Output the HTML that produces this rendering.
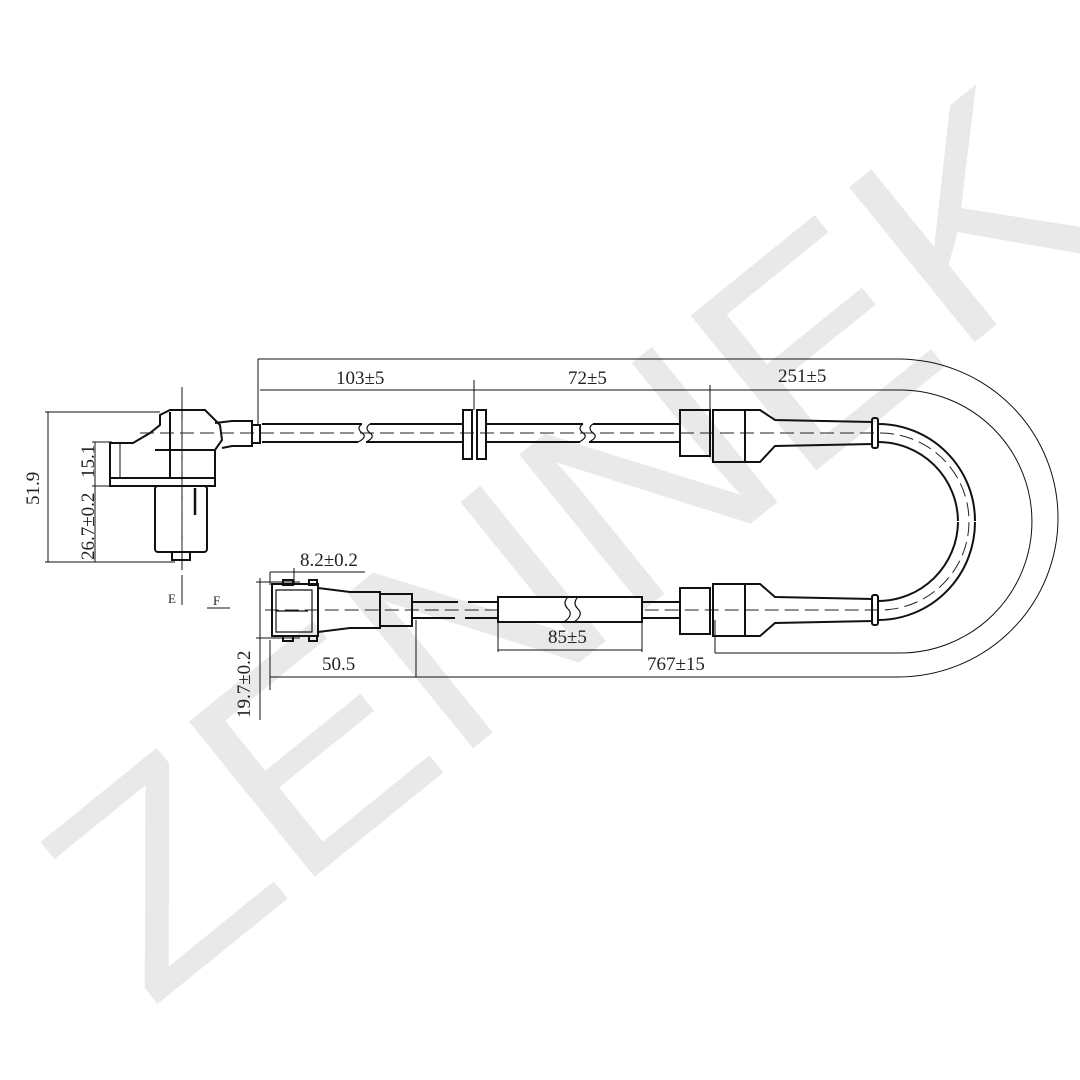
<!DOCTYPE html>
<html><head><meta charset="utf-8"><style>
html,body{margin:0;padding:0;background:#fff;}
svg{display:block}
text{font-family:"Liberation Serif",serif;fill:#222;}
</style></head><body>
<svg width="1080" height="1080" viewBox="0 0 1080 1080" xmlns="http://www.w3.org/2000/svg">
<!-- watermark -->
<g transform="translate(150,1010) rotate(-39)">
<text x="0" y="0" style="font-family:'Liberation Sans',sans-serif;font-weight:normal;font-size:290px;fill:#e9e9e9;" textLength="1240" lengthAdjust="spacingAndGlyphs">ZENNEK</text>
</g>
<g fill="none" stroke="#111" stroke-width="1">
<path d="M258 359 H898 A160 159 0 0 1 898 677 H270"/>
<path d="M258 359 V424"/>
<path d="M710 390 H900 A132 131.5 0 0 1 900 653 H715"/>
<path d="M260 390 H710"/>
<path d="M474 380 V410"/>
<path d="M710 385 V410"/>
<path d="M715 653 V620"/>
<path d="M498 650 H642"/><path d="M498 622 V652"/><path d="M642 622 V652"/>
<path d="M416 677 V620"/><path d="M270 640 V690"/>
<path d="M270 572 H365"/><path d="M270 572 V585"/><path d="M294 568 V585"/>
<path d="M256 582 H300"/><path d="M256 638 H300"/><path d="M260 578 V720"/>
<path d="M45 412 H160"/><path d="M45 562 H175"/><path d="M48 412 V562"/>
<path d="M92 442 H112"/><path d="M92 486 H140"/><path d="M95 442 V562"/>
<path d="M182 387 V570"/>
<path d="M182 575 V605"/>
<path d="M207 608 H230"/>
</g>
<g fill="none" stroke="#222" stroke-width="1" stroke-dasharray="14,6">
<path d="M140 433 H880 A89 88.5 0 0 1 880 610 H265"/>
<path d="M182 420 V560"/>
</g>
<g fill="none" stroke="#111" stroke-width="2">
<path d="M262 424 H362 M262 442 H358"/>
<path d="M370 424 H463 M366 442 H463"/>
<path d="M486 424 H583 M486 442 H580"/>
<path d="M593 424 H680 M589 442 H680"/>
<path d="M362 424 q-6 4 0 9 q6 4 -4 9" stroke-width="1.2"/>
<path d="M370 424 q-6 4 0 9 q6 4 -4 9" stroke-width="1.2"/>
<path d="M583 424 q-6 4 0 9 q6 4 -4 9" stroke-width="1.2"/>
<path d="M593 424 q-6 4 0 9 q6 4 -4 9" stroke-width="1.2"/>
<rect x="463" y="410" width="9" height="49"/>
<rect x="477" y="410" width="9" height="49"/>
<rect x="680" y="410" width="30" height="46"/>
<rect x="713" y="410" width="32" height="52"/>
<path d="M745 410 H760 L775 420 L872 422 V444 L775 446 L760 462 H745"/>
<rect x="872" y="418" width="6" height="30" rx="2"/>
<path d="M878 424 A97 97 0 0 1 975 521 M878 442 A80 80 0 0 1 958 521"/>
<path d="M878 620 A97 98 0 0 0 975 522 M878 601 A80 80 0 0 0 958 522"/>
<rect x="680" y="588" width="30" height="46"/>
<rect x="713" y="584" width="32" height="52"/>
<path d="M745 584 H760 L775 597 L872 599 V621 L775 623 L760 636 H745"/>
<rect x="872" y="595" width="6" height="30" rx="2"/>
<path d="M412 602 H458 M412 618 H455 M468 602 H498 M465 618 H498"/>
<path d="M642 602 H680 M642 618 H680"/>
<rect x="498" y="597" width="144" height="25" fill="#fff"/>
<path d="M568 597 q-6 6 0 12 q6 6 -4 13" stroke-width="1.2" />
<path d="M578 597 q-6 6 0 12 q6 6 -4 13" stroke-width="1.2"/>
<path d="M272 584 H318 V636 H272 Z"/>
<path d="M276 590 H312 V632 H276 Z" stroke-width="1.2"/>
<path d="M276 611 H308" stroke-width="1.2"/>
<path d="M318 588 L350 592 H380 V628 H350 L318 632"/>
<rect x="380" y="594" width="32" height="32"/>
<rect x="283" y="580" width="10" height="5"/><rect x="283" y="636" width="10" height="5"/>
<rect x="309" y="580" width="8" height="5"/><rect x="309" y="636" width="8" height="5"/>
<path d="M110 443 H133 L150 433 L160 425 V415 L170 410 H205 L220 425 L222 440 L215 450 V478 H110 Z"/>
<path d="M170 412 V478 M155 450 H215"/>
<path d="M215 423 L232 421 H252 V446 H232 L222 448"/>
<rect x="252" y="425" width="8" height="18"/>
<rect x="155" y="486" width="52" height="66" rx="3"/>
<path d="M110 478 V486 H215 V478"/>
<rect x="172" y="552" width="18" height="8"/>
<path d="M195 488 V515" stroke-width="2.5"/>
<path d="M120 443 V478" stroke-width="1"/>
</g>
<g font-size="19">
<text x="336" y="384">103±5</text>
<text x="568" y="384">72±5</text>
<text x="778" y="382">251±5</text>
<text x="300" y="566">8.2±0.2</text>
<text x="548" y="643">85±5</text>
<text x="322" y="670">50.5</text>
<text x="647" y="670">767±15</text>
<text transform="translate(39,505) rotate(-90)">51.9</text>
<text transform="translate(94,478) rotate(-90)">15.1</text>
<text transform="translate(94,560) rotate(-90)">26.7±0.2</text>
<text transform="translate(250,718) rotate(-90)">19.7±0.2</text>
<text x="168" y="603" font-size="13">E</text>
<text x="213" y="605" font-size="13">F</text>
</g>
</svg>
</body></html>
